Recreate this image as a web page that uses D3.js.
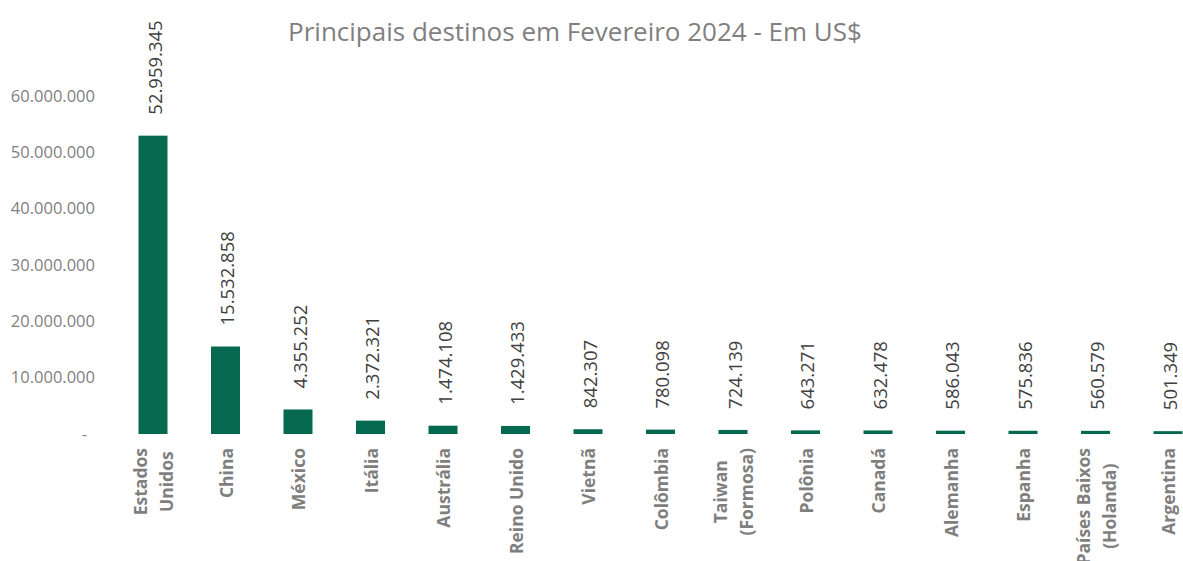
<!DOCTYPE html>
<html><head><meta charset="utf-8">
<script src="https://cdn.jsdelivr.net/npm/d3@7"></script>
<style>body{margin:0;background:#fff;} svg{display:block;}</style>
</head><body>
<svg id="c" width="1183" height="561"></svg>
<script>
const categories = ["Estados Unidos","China","México","Itália","Austrália","Reino Unido","Vietnã","Colômbia","Taiwan (Formosa)","Polônia","Canadá","Alemanha","Espanha","Países Baixos (Holanda)","Argentina"];
const values = [52959345,15532858,4355252,2372321,1474108,1429433,842307,780098,724139,643271,632478,586043,575836,560579,501349];
const yTicks = [0,10000000,20000000,30000000,40000000,50000000,60000000];
const title = "Principais destinos em Fevereiro 2024 - Em US$";

const svg = d3.select("#c");
const FONT = "'Open Sans', sans-serif";
const loc = d3.formatLocale({decimal:",", thousands:".", grouping:[3], currency:["US$",""]});
const fmt = loc.format(",d");

const x = d3.scaleBand().domain(categories).range([116.75, 1204.25]).paddingInner(0.6).paddingOuter(0.3);
const y = d3.scaleLinear().domain([0, 60000000]).range([434, 96]);

svg.append("text").attr("x", 575).attr("y", 41).attr("text-anchor","middle")
  .attr("font-family", FONT).attr("font-size", 26).attr("fill","#7f7f7f").text(title);

// y axis (no line)
const yAxis = d3.axisLeft(y).tickValues(yTicks).tickSize(0).tickPadding(0)
  .tickFormat(d => d === 0 ? "-" : fmt(d));
const ga = svg.append("g").attr("transform","translate(95,0)").call(yAxis);
ga.select(".domain").remove();
ga.selectAll("text").attr("font-family", FONT).attr("font-size", 16.5).attr("fill","#7f7f7f");
ga.selectAll(".tick").filter(d => d === 0).select("text").attr("dx", -8);

// bars
svg.append("g").selectAll("rect").data(values).join("rect")
  .attr("x", (d,i) => x(categories[i])).attr("width", x.bandwidth())
  .attr("y", d => y(d)).attr("height", d => y(0) - y(d))
  .attr("fill", "#04694f");

// data labels
svg.append("g").selectAll("text").data(values).join("text")
  .attr("transform", (d,i) => `translate(${x(categories[i]) + x.bandwidth()/2 + 1},${y(d) - 21}) rotate(-90)`)
  .attr("dominant-baseline","central")
  .attr("font-family", FONT).attr("font-size", 18.5).attr("fill","#404040")
  .text(d => fmt(d));

// category labels with wrapping
const gl = svg.append("g");
const maxW = 122;
const LFS = 17.5;
categories.forEach((c, i) => {
  const words = c.split(" ");
  const tmp = gl.append("text").attr("font-family", FONT).attr("font-size", LFS).attr("font-weight","bold");
  const measure = s => { tmp.text(s); return tmp.node().getComputedTextLength(); };
  const lines = [];
  let cur = "";
  words.forEach(w => {
    const t = cur ? cur + " " + w : w;
    if (cur && measure(t) > maxW) { lines.push(cur); cur = w; } else cur = t;
  });
  lines.push(cur);
  const lens = lines.map(measure);
  tmp.remove();
  const L = Math.max(...lens);
  const cx = x(c) + x.bandwidth()/2;
  const lh = 26;
  lines.forEach((ln, k) => {
    const off = (k - (lines.length - 1)/2) * lh;
    gl.append("text")
      .attr("transform", `translate(${cx + off},${448 + L/2}) rotate(-90)`)
      .attr("text-anchor","middle").attr("dominant-baseline","central")
      .attr("font-family", FONT).attr("font-size", LFS).attr("font-weight","bold").attr("fill","#7f7f7f")
      .text(ln);
  });
});
</script>
</body></html>
